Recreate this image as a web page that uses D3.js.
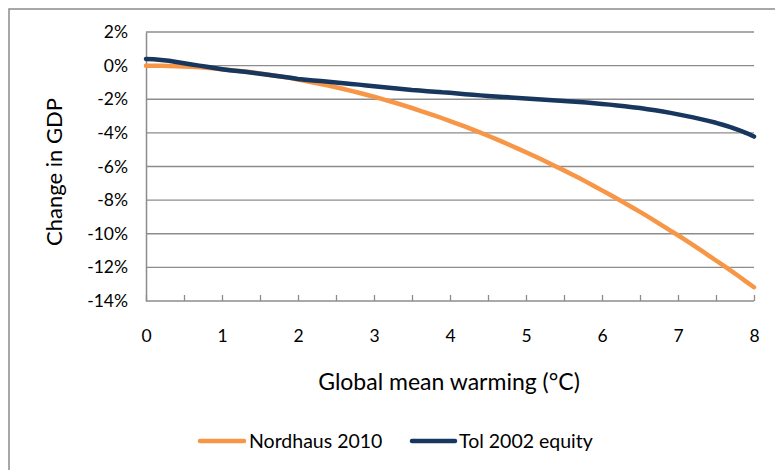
<!DOCTYPE html>
<html>
<head>
<meta charset="utf-8">
<script src="https://cdn.jsdelivr.net/npm/d3@7"></script>
<style>
  html, body { margin: 0; padding: 0; background: #fff; }
  svg { display: block; }
  text { font-family: Lato, "Open Sans", sans-serif; fill: #000; }
</style>
</head>
<body>
<svg id="chart" width="775" height="470"></svg>
<script>
// ---- data ----
const warming = d3.range(0, 81).map(i => +(i / 10).toFixed(1)); // 0.0 .. 8.0 °C
const nordhaus2010 = [
  0.00, 0.00, -0.01, -0.02, -0.03, -0.05, -0.07, -0.10, -0.13, -0.17, -0.22,
  -0.26, -0.30, -0.35, -0.40, -0.46, -0.53, -0.60, -0.67, -0.74, -0.82,
  -0.91, -1.00, -1.09, -1.19, -1.29, -1.39, -1.50, -1.61, -1.73, -1.85,
  -1.98, -2.11, -2.24, -2.38, -2.52, -2.67, -2.82, -2.97, -3.13, -3.30,
  -3.46, -3.63, -3.81, -3.99, -4.17, -4.36, -4.55, -4.75, -4.95, -5.15,
  -5.36, -5.57, -5.79, -6.01, -6.23, -6.46, -6.69, -6.93, -7.17, -7.42,
  -7.67, -7.92, -8.18, -8.44, -8.70, -8.97, -9.25, -9.53, -9.81, -10.09,
  -10.38, -10.68, -10.98, -11.28, -11.59, -11.90, -12.21, -12.53, -12.86, -13.18
];
const tol2002equity = [
  0.40, 0.38, 0.34, 0.29, 0.22, 0.14, 0.07, 0.00, -0.07, -0.14, -0.21,
  -0.27, -0.32, -0.37, -0.42, -0.48, -0.54, -0.60, -0.66, -0.72, -0.79,
  -0.84, -0.88, -0.92, -0.96, -1.00, -1.05, -1.09, -1.13, -1.18, -1.22,
  -1.27, -1.31, -1.36, -1.40, -1.45, -1.48, -1.52, -1.55, -1.59, -1.62,
  -1.66, -1.70, -1.73, -1.77, -1.80, -1.83, -1.86, -1.89, -1.92, -1.95,
  -1.98, -2.01, -2.04, -2.07, -2.10, -2.13, -2.17, -2.20, -2.24, -2.28,
  -2.32, -2.37, -2.42, -2.47, -2.52, -2.59, -2.66, -2.73, -2.81, -2.90,
  -2.99, -3.08, -3.18, -3.29, -3.40, -3.53, -3.67, -3.83, -4.01, -4.22
];
const seriesNames = ["Nordhaus 2010", "Tol 2002 equity"];
const seriesColors = ["#F79646", "#17375E"];
const yTicks = [2, 0, -2, -4, -6, -8, -10, -12, -14];
const xLabelTicks = [0, 1, 2, 3, 4, 5, 6, 7, 8];
const xMinorTicks = d3.range(0, 17).map(i => i * 0.5);
const xTitle = "Global mean warming (°C)";
const yTitle = "Change in GDP";

// ---- layout ----
const svg = d3.select("#chart");
const pLeft = 146, pRight = 754, pTop = 32, pBottom = 301;
const x = d3.scaleLinear().domain([0, 8]).range([pLeft, pRight]);
const y = d3.scaleLinear().domain([-14, 2]).range([pBottom, pTop]);
const gridColor = "#8c8c8c";

// outer chart border
svg.append("rect")
  .attr("x", 9).attr("y", 9).attr("width", 800).attr("height", 500)
  .attr("fill", "none").attr("stroke", "#8c8c8c").attr("stroke-width", 1.5);

// gridlines
svg.append("g").selectAll("line").data(yTicks.filter(v => v !== -14)).join("line")
  .attr("x1", pLeft).attr("x2", pRight)
  .attr("y1", d => y(d)).attr("y2", d => y(d))
  .attr("stroke", gridColor).attr("stroke-width", 1.3);

// y axis (labels only + axis line)
const yAxis = d3.axisLeft(y).tickValues(yTicks).tickSize(0).tickPadding(18)
  .tickFormat(d => d + "%");
const gy = svg.append("g").attr("transform", `translate(${pLeft},0)`).call(yAxis);
gy.select(".domain").attr("stroke", gridColor).attr("stroke-width", 1.5);
gy.selectAll("text").style("font-size", "17.5px").style("font-family", "Lato, sans-serif").attr("fill", "#000");

// x axis: inward minor ticks
const xAxis = d3.axisTop(x).tickValues(xMinorTicks).tickSize(6).tickFormat("");
const gx = svg.append("g").attr("transform", `translate(0,${pBottom})`).call(xAxis);
gx.select(".domain").attr("stroke", gridColor).attr("stroke-width", 1.5).attr("d", `M${pLeft},0H${pRight}`);
gx.selectAll(".tick line").attr("stroke", gridColor).attr("stroke-width", 1.3);

// x labels
const xLab = d3.axisBottom(x).tickValues(xLabelTicks).tickSize(0).tickPadding(29).tickFormat(d3.format("d"));
const gxl = svg.append("g").attr("transform", `translate(0,${pBottom})`).call(xLab);
gxl.select(".domain").remove();
gxl.selectAll("text").style("font-size", "17.5px").style("font-family", "Lato, sans-serif").attr("fill", "#000");

// titles
svg.append("text").attr("x", 449).attr("y", 390).attr("text-anchor", "middle")
  .style("font-size", "23px").text(xTitle);
svg.append("text").attr("transform", "translate(62,172) rotate(-90)").attr("text-anchor", "middle")
  .style("font-size", "22px").text(yTitle);

// lines
const series = [nordhaus2010, tol2002equity];
const line = d3.line().x((d, i) => x(warming[i])).y(d => y(d));
svg.append("g").selectAll("path").data(series).join("path")
  .attr("d", d => line(d))
  .attr("fill", "none")
  .attr("stroke", (d, i) => seriesColors[i])
  .attr("stroke-width", 4.5)
  .attr("stroke-linecap", "round")
  .attr("stroke-linejoin", "round");

// legend
const legendItems = [
  { x1: 200, x2: 244, tx: 249 },
  { x1: 412, x2: 455, tx: 459 }
];
const lg = svg.append("g");
legendItems.forEach((it, i) => {
  lg.append("line").attr("x1", it.x1).attr("x2", it.x2).attr("y1", 441).attr("y2", 441)
    .attr("stroke", seriesColors[i]).attr("stroke-width", 4.5).attr("stroke-linecap", "round");
  lg.append("text").attr("x", it.tx).attr("y", 448).style("font-size", "19.5px").text(seriesNames[i]);
});
</script>
</body>
</html>
